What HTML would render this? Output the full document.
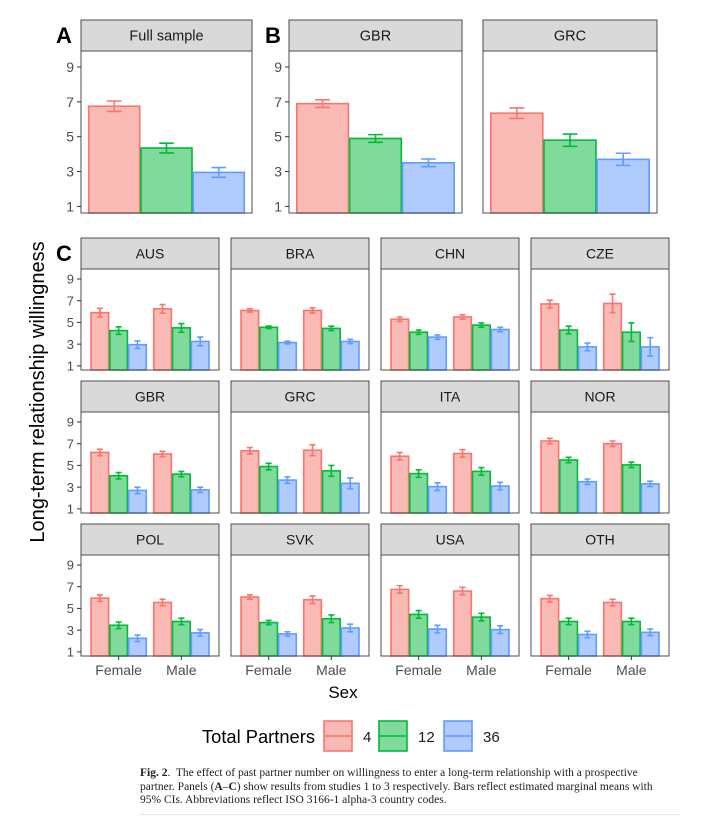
<!DOCTYPE html>
<html><head><meta charset="utf-8"><style>
body{margin:0;background:#fff;width:716px;height:826px;overflow:hidden;}
svg{display:block;font-family:"Liberation Sans",Arial,sans-serif;}
.cap{position:absolute;left:140px;top:767px;width:516px;font-family:"Liberation Serif",serif;font-size:11.5px;line-height:13.5px;color:#222;}
</style></head><body>
<svg id="chart" width="716" height="826" xmlns="http://www.w3.org/2000/svg"></svg>
<div class="cap"><b>Fig. 2</b>.&nbsp; The effect of past partner number on willingness to enter a long-term relationship with a prospective partner. Panels (<b>A</b>–<b>C</b>) show results from studies 1 to 3 respectively. Bars reflect estimated marginal means with 95% CIs. Abbreviations reflect ISO 3166-1 alpha-3 country codes.</div>
<div style="position:absolute;left:140px;top:814px;width:540px;border-top:1px dotted #c8d4de;"></div>
<script>
const groups=["4","12","36"];
const sexes=["Female","Male"];
const yTicks=[1,3,5,7,9];
const topPanels=["Full sample","GBR","GRC"];
const topMeans=[[6.75,4.35,2.95],[6.9,4.9,3.5],[6.35,4.8,3.7]];
const topCI=[[0.3,0.28,0.28],[0.22,0.22,0.22],[0.3,0.35,0.35]];
const countries=["AUS","BRA","CHN","CZE","GBR","GRC","ITA","NOR","POL","SVK","USA","OTH"];
const femaleMeans=[[5.9,4.25,2.95],[6.1,4.55,3.15],[5.3,4.1,3.65],[6.7,4.3,2.75],[6.2,4.05,2.7],[6.35,4.9,3.65],[5.85,4.25,3.05],[7.25,5.5,3.5],[5.95,3.45,2.25],[6.05,3.7,2.65],[6.75,4.45,3.1],[5.9,3.8,2.6]];
const maleMeans=[[6.25,4.5,3.25],[6.1,4.45,3.25],[5.5,4.75,4.35],[6.75,4.1,2.75],[6.05,4.2,2.75],[6.4,4.5,3.35],[6.1,4.45,3.1],[7.0,5.05,3.3],[5.55,3.8,2.75],[5.8,4.05,3.2],[6.6,4.2,3.05],[5.55,3.8,2.8]];
const femaleCI=[[0.4,0.35,0.35],[0.15,0.12,0.12],[0.2,0.2,0.2],[0.35,0.35,0.35],[0.3,0.3,0.3],[0.3,0.3,0.3],[0.35,0.35,0.35],[0.25,0.25,0.25],[0.3,0.3,0.3],[0.2,0.2,0.2],[0.35,0.35,0.35],[0.3,0.3,0.3]];
const maleCI=[[0.4,0.4,0.4],[0.25,0.2,0.2],[0.2,0.2,0.2],[0.85,0.85,0.85],[0.25,0.25,0.25],[0.5,0.5,0.5],[0.35,0.35,0.35],[0.25,0.25,0.25],[0.3,0.3,0.3],[0.35,0.35,0.35],[0.35,0.35,0.35],[0.3,0.3,0.3]];

const fills=["#f9b9b5","#80da9b","#b0cbfd"], strokes=["#F8766D","#00BA38","#619CFF"];
const YMIN=0.62,YMAX=9.92;
const svg=document.getElementById('chart');
const NS="http://www.w3.org/2000/svg";
function mk(tag,attrs,parent,text){const e=document.createElementNS(NS,tag);for(const k in attrs)e.setAttribute(k,attrs[k]);if(text!==undefined)e.textContent=text;(parent||svg).appendChild(e);return e;}

function panel(px,py,pw,ph,stripH,title,fontSize,cats,means,cis,width,showY,showX,tickFs,name){
  const g=mk('g',{});
  
  
  const y=v=>py+ph-(v-YMIN)/(YMAX-YMIN)*ph;
  const n=cats.length, lo=0.4, hi=n+0.6;
  const x=c=>px+(c-lo)/(hi-lo)*pw;
  const st=mk('rect',{x:px,y:py-stripH,width:pw,height:stripH,fill:'#d9d9d9',stroke:'#4d4d4d','stroke-width':1},g);
  
  const tt=mk('text',{x:px+pw/2,y:py-stripH/2+fontSize*0.36,'text-anchor':'middle','font-size':fontSize,fill:'#1a1a1a'},g,title);
  
  mk('rect',{x:px,y:py,width:pw,height:ph,fill:'#fff'},g);
  for(let c=0;c<n;c++){
    for(let k=0;k<3;k++){
      const bw=width/3, cx=(c+1)-width/2+bw*(k+0.5);
      const x0=x(cx-bw/2),x1=x(cx+bw/2);
      const b=mk('rect',{x:x0+0.6,y:y(means[c][k]),width:x1-x0-1.2,height:py+ph-y(means[c][k]),fill:fills[k],stroke:strokes[k],'stroke-width':1.6},g);
      
      
      const xc=x(cx), hw=Math.max(3,(x1-x0)*0.14);
      const yt=y(means[c][k]+cis[c][k]), yb=y(means[c][k]-cis[c][k]);
      const eb=mk('path',{d:`M${xc-hw},${yt}H${xc+hw}M${xc},${yt}V${yb}M${xc-hw},${yb}H${xc+hw}`,stroke:strokes[k],'stroke-width':1.6,fill:'none'},g);
      
      
    }
    if(showX){
      mk('line',{x1:x(c+1),x2:x(c+1),y1:py+ph,y2:py+ph+4,stroke:'#333','stroke-width':1},g);
      const xl=mk('text',{x:x(c+1),y:py+ph+19,'text-anchor':'middle','font-size':14,fill:'#4d4d4d'},g,cats[c]);
      
    }
  }
  mk('rect',{x:px,y:py,width:pw,height:ph,fill:'none',stroke:'#4d4d4d','stroke-width':1},g);
  if(showY){
    yTicks.forEach(t=>{
      mk('line',{x1:px-4,x2:px,y1:y(t),y2:y(t),stroke:'#333','stroke-width':1},g);
      const yl=mk('text',{x:px-7,y:y(t)+tickFs*0.36,'text-anchor':'end','font-size':tickFs,fill:'#4d4d4d'},g,t);
      
    });
  }
}
const topX=[81,289,483], topW=[171,173,174];
topPanels.forEach((t,i)=>panel(topX[i],51,topW[i],162,31,t,14.5,[""],[topMeans[i]],[topCI[i]],1.1,i<2,false,14,'top-'+t.toLowerCase().replace(' ','-')));
const colX=[81,231,381,531], rowY=[269,412,555];
countries.forEach((c,i)=>{
  const r=Math.floor(i/4),col=i%4;
  panel(colX[col],rowY[r],138,101,31,c,14,sexes,[femaleMeans[i],maleMeans[i]],[femaleCI[i],maleCI[i]],0.9,col===0,r===2,13,'c-'+c.toLowerCase());
});
[["A",56,43],["B",265,43],["C",56,261]].forEach(([l,x,y])=>{const e=mk('text',{x:x,y:y,'font-size':22,'font-weight':'bold',fill:'#000'},svg,l);});
const yt=mk('text',{x:0,y:0,transform:'translate(44,392) rotate(-90)','text-anchor':'middle','font-size':20,fill:'#000'},svg,'Long-term relationship willingness');

const xt=mk('text',{x:343,y:698,'text-anchor':'middle','font-size':17,fill:'#000'},svg,'Sex');

const lt=mk('text',{x:202,y:743,'font-size':18.5,fill:'#000',textLength:113,lengthAdjust:'spacingAndGlyphs'},svg,'Total Partners');

const keyX=[324,379,444], labX=[363,418,483];
groups.forEach((gname,k)=>{
  const kg=mk('g',{});
  
  
  mk('rect',{x:keyX[k],y:721,width:28,height:30,fill:fills[k],stroke:strokes[k],'stroke-width':1.6},kg);
  mk('line',{x1:keyX[k]+1,x2:keyX[k]+27,y1:736,y2:736,stroke:strokes[k],'stroke-width':1.5},kg);
  mk('text',{x:labX[k],y:742,'font-size':15,fill:'#1a1a1a'},kg,gname);
});
</script>
</body></html>
